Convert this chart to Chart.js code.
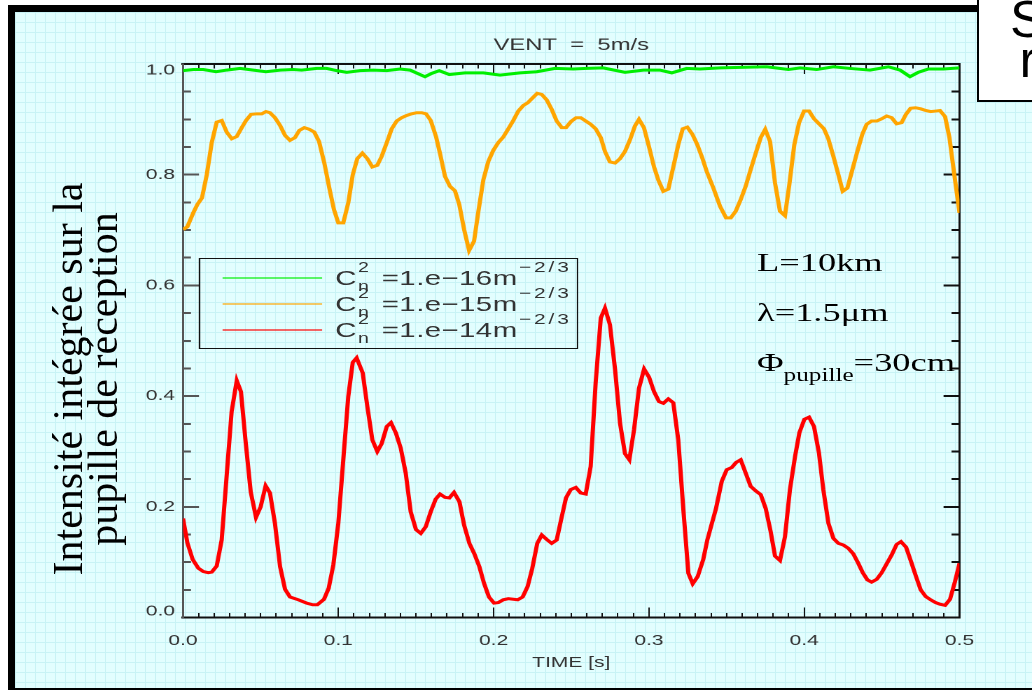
<!DOCTYPE html>
<html lang="fr">
<head>
<meta charset="utf-8">
<title>VENT = 5m/s</title>
<script src="https://cdn.jsdelivr.net/npm/chart.js@4.4.1/dist/chart.umd.min.js"></script>
<style>
  html, body { margin: 0; padding: 0; background: #fff; overflow: hidden; }
  body { width: 1032px; height: 690px; position: relative; }
  #frame {
    position: absolute; left: 8px; top: 5px; width: 1100px; height: 690px;
    box-sizing: border-box; border: 7px solid #000;
    background-color: #e2fefe;
    background-image:
      linear-gradient(to right, #c8f3f5 1px, transparent 1px),
      linear-gradient(to bottom, #c8f3f5 1px, transparent 1px);
    background-size: 10px 10px;
  }
  /* the plot is drawn 737px wide and stretched to the page width */
  #stage {
    position: absolute; left: 0; top: 0; width: 737px; height: 690px;
    transform: scaleX(1.40027); transform-origin: 0 0;
  }
  #chart { position: absolute; left: 0; top: 0; }
  #legend {
    position: absolute; left: 141.6px; top: 258.3px; width: 271.4px; height: 90.7px;
    box-sizing: border-box; border: 1px solid #111;
    font-family: 'Liberation Sans', Arial, sans-serif; color: #333;
  }
  #legend .row { position: absolute; left: 0; height: 26px; display: flex; align-items: flex-start; white-space: nowrap; }
  #legend .sample { width: 70.7px; height: 0; margin-left: 16.7px; margin-top: 12px; border-top: 2px solid; opacity: 0.6; }
  #legend .main { font-size: 21px; line-height: 26px; }
  #legend .c { margin-left: 9.5px; }
  #legend .ss { position: relative; width: 9px; height: 26px; font-size: 14px; line-height: 14px; }
  #legend .ss span { position: absolute; left: 1px; }
  #legend .s2 { top: -4.8px; }
  #legend .sn { top: 14.8px; }
  #legend .eq { margin-left: 9px; letter-spacing: 0.3px; }
  #legend .sup { font-size: 15px; position: relative; top: -13px; letter-spacing: 2px; margin-left: 1px; }
  .note {
    position: absolute; left: 540.6px; font-family: 'Liberation Serif', 'Times New Roman', serif;
    font-size: 26px; line-height: 26px; color: #000; white-space: nowrap;
  }
  .note .sub { font-size: 18px; vertical-align: -9.7px; line-height: 0; }
  #ytitle {
    position: absolute; left: -129.5px; top: 344px; width: 430px; height: 70px;
    font-family: 'Liberation Serif', 'Times New Roman', serif; font-size: 42px; line-height: 35px;
    text-align: center; white-space: nowrap; color: #000;
    transform: rotate(-90deg); transform-origin: 50% 50%;
  }
  #tag {
    position: absolute; left: 977px; top: -10px; width: 200px; height: 112px;
    box-sizing: border-box; border: 2px solid #000; background: #fff; overflow: hidden;
  }
  #tag div { position: absolute; font-family: 'Liberation Sans', Arial, sans-serif; font-size: 52px; line-height: 52px; color: #000; }
</style>
</head>
<body>
<div id="frame"></div>
<div id="stage">
  <canvas id="chart" width="737" height="690"></canvas>
  <div id="legend"></div>
  <div class="note" style="top:249.9px">L=10km</div>
  <div class="note" style="top:299.9px">&lambda;=1.5&mu;m</div>
  <div class="note" style="top:350.2px">&Phi;<span class="sub">pupille</span>=30cm</div>
</div>
<div id="ytitle">Intensité intégrée sur la<br>pupille de réception</div>
<div id="tag"><div style="left:31px;top:1px">S</div><div style="left:40.6px;top:41.3px">r</div></div>

<script>
const xTickLabels = ['0.0', '0.1', '0.2', '0.3', '0.4', '0.5'];
const yTickLabels = ['0.0', '0.2', '0.4', '0.6', '0.8', '1.0'];
const seriesExponents = ['1.e\u221216', '1.e\u221215', '1.e\u221214'];
const seriesColors = ['#00ee00', '#ffa500', '#ff0000'];

const greenTime = [0, 0.0068, 0.0131, 0.0213, 0.0281, 0.0367, 0.0453, 0.0534, 0.0625, 0.0710,
  0.0764, 0.0861, 0.0925, 0.0990, 0.1054, 0.1140, 0.1225, 0.1312, 0.1397, 0.1462,
  0.1509, 0.1558, 0.1601, 0.1650, 0.1715, 0.1816, 0.1934, 0.2041, 0.2170, 0.2278,
  0.2395, 0.2513, 0.2600, 0.2706, 0.2846, 0.2964, 0.3071, 0.3147, 0.3243, 0.3329,
  0.3458, 0.3587, 0.3758, 0.3898, 0.3973, 0.4080, 0.4188, 0.4295, 0.4424, 0.4542,
  0.4617, 0.4681, 0.4735, 0.4799, 0.4896, 0.5000];
const greenValue = [0.988, 0.990, 0.990, 0.986, 0.989, 0.992, 0.989, 0.986, 0.989, 0.990,
  0.989, 0.992, 0.992, 0.988, 0.985, 0.988, 0.989, 0.988, 0.991, 0.989,
  0.983, 0.977, 0.983, 0.988, 0.981, 0.984, 0.984, 0.980, 0.984, 0.986,
  0.992, 0.991, 0.992, 0.993, 0.985, 0.989, 0.989, 0.984, 0.992, 0.991,
  0.993, 0.994, 0.995, 0.990, 0.993, 0.990, 0.995, 0.992, 0.989, 0.995,
  0.989, 0.977, 0.985, 0.991, 0.991, 0.993];

const orangeTime = [0, 0.0028, 0.0066, 0.0092, 0.0122, 0.0153, 0.0185, 0.0217, 0.0249, 0.0281,
  0.0314, 0.0346, 0.0378, 0.0406, 0.0438, 0.0475, 0.0507, 0.0534, 0.0560, 0.0592,
  0.0625, 0.0657, 0.0689, 0.0721, 0.0749, 0.0781, 0.0813, 0.0845, 0.0876, 0.0910,
  0.0942, 0.0972, 0.1000, 0.1032, 0.1064, 0.1093, 0.1122, 0.1155, 0.1187, 0.1219,
  0.1251, 0.1279, 0.1312, 0.1344, 0.1376, 0.1408, 0.1440, 0.1473, 0.1505, 0.1537,
  0.1565, 0.1595, 0.1629, 0.1655, 0.1687, 0.1719, 0.1751, 0.1779, 0.1810, 0.1842,
  0.1874, 0.1902, 0.1934, 0.1966, 0.1998, 0.2030, 0.2062, 0.2095, 0.2127, 0.2159,
  0.2191, 0.2220, 0.2252, 0.2281, 0.2310, 0.2342, 0.2374, 0.2406, 0.2439, 0.2466,
  0.2498, 0.2531, 0.2561, 0.2593, 0.2625, 0.2657, 0.2690, 0.2717, 0.2749, 0.2782,
  0.2814, 0.2846, 0.2878, 0.2910, 0.2936, 0.2968, 0.3001, 0.3033, 0.3061, 0.3093,
  0.3125, 0.3157, 0.3189, 0.3218, 0.3247, 0.3280, 0.3312, 0.3344, 0.3372, 0.3415,
  0.3458, 0.3497, 0.3527, 0.3559, 0.3591, 0.3623, 0.3655, 0.3688, 0.3720, 0.3749,
  0.3780, 0.3812, 0.3844, 0.3876, 0.3904, 0.3936, 0.3967, 0.3999, 0.4031, 0.4063,
  0.4095, 0.4127, 0.4155, 0.4188, 0.4220, 0.4248, 0.4278, 0.4310, 0.4342, 0.4374,
  0.4402, 0.4434, 0.4467, 0.4499, 0.4531, 0.4563, 0.4595, 0.4627, 0.4655, 0.4685,
  0.4717, 0.4750, 0.4782, 0.4814, 0.4846, 0.4874, 0.4907, 0.4935, 0.4965, 0.5000];
const orangeValue = [0.701, 0.706, 0.731, 0.746, 0.758, 0.800, 0.858, 0.895, 0.898, 0.877,
  0.865, 0.869, 0.885, 0.898, 0.909, 0.910, 0.910, 0.914, 0.912, 0.903,
  0.889, 0.871, 0.862, 0.867, 0.880, 0.885, 0.882, 0.877, 0.860, 0.821,
  0.776, 0.737, 0.713, 0.713, 0.749, 0.800, 0.829, 0.839, 0.829, 0.814,
  0.817, 0.833, 0.858, 0.883, 0.897, 0.903, 0.907, 0.910, 0.912, 0.912,
  0.910, 0.898, 0.869, 0.838, 0.797, 0.779, 0.771, 0.746, 0.701, 0.663,
  0.680, 0.734, 0.791, 0.824, 0.844, 0.858, 0.868, 0.883, 0.898, 0.915,
  0.925, 0.930, 0.939, 0.947, 0.945, 0.935, 0.918, 0.897, 0.885, 0.885,
  0.896, 0.903, 0.903, 0.897, 0.891, 0.883, 0.867, 0.842, 0.823, 0.821,
  0.829, 0.842, 0.863, 0.888, 0.900, 0.885, 0.850, 0.814, 0.790, 0.770,
  0.774, 0.814, 0.854, 0.883, 0.886, 0.873, 0.854, 0.830, 0.806, 0.776,
  0.743, 0.722, 0.722, 0.734, 0.755, 0.779, 0.809, 0.839, 0.867, 0.882,
  0.860, 0.785, 0.734, 0.726, 0.782, 0.854, 0.894, 0.915, 0.915, 0.901,
  0.892, 0.883, 0.865, 0.833, 0.800, 0.770, 0.776, 0.809, 0.842, 0.873,
  0.891, 0.897, 0.897, 0.901, 0.906, 0.903, 0.892, 0.894, 0.909, 0.920,
  0.921, 0.919, 0.916, 0.914, 0.915, 0.916, 0.905, 0.867, 0.803, 0.731];

const redTime = [0, 0.0028, 0.0062, 0.0099, 0.0131, 0.0163, 0.0185, 0.0217, 0.0249, 0.0313,
  0.0346, 0.0373, 0.0404, 0.0436, 0.0470, 0.0500, 0.0532, 0.0560, 0.0592, 0.0625,
  0.0657, 0.0689, 0.0743, 0.0796, 0.0835, 0.0865, 0.0908, 0.0938, 0.0968, 0.1000,
  0.1032, 0.1064, 0.1093, 0.1118, 0.1157, 0.1187, 0.1219, 0.1251, 0.1279, 0.1312,
  0.1339, 0.1371, 0.1402, 0.1434, 0.1466, 0.1500, 0.1531, 0.1563, 0.1595, 0.1627,
  0.1655, 0.1687, 0.1715, 0.1745, 0.1780, 0.1810, 0.1844, 0.1876, 0.1908, 0.1938,
  0.1970, 0.2003, 0.2030, 0.2062, 0.2095, 0.2127, 0.2155, 0.2187, 0.2219, 0.2249,
  0.2281, 0.2310, 0.2342, 0.2374, 0.2406, 0.2434, 0.2466, 0.2496, 0.2529, 0.2561,
  0.2593, 0.2625, 0.2657, 0.2690, 0.2717, 0.2749, 0.2782, 0.2814, 0.2846, 0.2874,
  0.2904, 0.2936, 0.2969, 0.3001, 0.3033, 0.3065, 0.3093, 0.3125, 0.3157, 0.3189,
  0.3222, 0.3254, 0.3282, 0.3314, 0.3350, 0.3376, 0.3432, 0.3469, 0.3501, 0.3533,
  0.3561, 0.3591, 0.3623, 0.3655, 0.3687, 0.3720, 0.3752, 0.3784, 0.3812, 0.3844,
  0.3876, 0.3908, 0.3941, 0.3969, 0.4001, 0.4031, 0.4063, 0.4095, 0.4123, 0.4156,
  0.4188, 0.4220, 0.4252, 0.4284, 0.4316, 0.4348, 0.4377, 0.4407, 0.4434, 0.4467,
  0.4499, 0.4531, 0.4563, 0.4595, 0.4623, 0.4656, 0.4688, 0.4720, 0.4750, 0.4782,
  0.4814, 0.4846, 0.4874, 0.4907, 0.4939, 0.4971, 0.5000];
const redValue = [0.179, 0.135, 0.105, 0.089, 0.083, 0.081, 0.082, 0.093, 0.140, 0.372,
  0.428, 0.408, 0.315, 0.227, 0.181, 0.200, 0.238, 0.225, 0.170, 0.092,
  0.051, 0.037, 0.032, 0.026, 0.023, 0.023, 0.033, 0.053, 0.095, 0.170,
  0.285, 0.399, 0.461, 0.469, 0.442, 0.381, 0.321, 0.300, 0.314, 0.345,
  0.352, 0.333, 0.306, 0.261, 0.191, 0.159, 0.152, 0.164, 0.191, 0.214,
  0.223, 0.217, 0.216, 0.226, 0.209, 0.167, 0.134, 0.115, 0.092, 0.062,
  0.037, 0.026, 0.027, 0.032, 0.034, 0.033, 0.032, 0.037, 0.056, 0.089,
  0.134, 0.149, 0.141, 0.134, 0.140, 0.176, 0.216, 0.231, 0.235, 0.225,
  0.223, 0.273, 0.424, 0.541, 0.559, 0.529, 0.448, 0.351, 0.296, 0.285,
  0.339, 0.414, 0.449, 0.434, 0.408, 0.390, 0.387, 0.395, 0.388, 0.321,
  0.194, 0.080, 0.061, 0.074, 0.105, 0.140, 0.197, 0.246, 0.267, 0.271,
  0.280, 0.285, 0.261, 0.237, 0.229, 0.222, 0.197, 0.155, 0.111, 0.103,
  0.146, 0.231, 0.291, 0.334, 0.358, 0.362, 0.345, 0.297, 0.231, 0.170,
  0.143, 0.134, 0.131, 0.125, 0.115, 0.098, 0.081, 0.068, 0.064, 0.069,
  0.081, 0.097, 0.113, 0.132, 0.137, 0.127, 0.101, 0.074, 0.050, 0.038,
  0.032, 0.027, 0.024, 0.022, 0.033, 0.065, 0.098];

const labelFont = { family: 'Liberation Sans', size: 15, weight: 'normal' };
const textColor = '#333';

function toPoints(times, values) {
  return times.map((t, i) => ({ x: t, y: values[i] }));
}

function buildSeries(times, values, index) {
  return {
    label: 'Cn2 = ' + seriesExponents[index] + ' m-2/3',
    exponent: seriesExponents[index],
    data: toPoints(times, values),
    borderColor: seriesColors[index],
    borderWidth: 3,
    pointRadius: 0,
    tension: 0,
    fill: false
  };
}

// builds one axis; minor axes only carry short tick marks
function axis(position, min, max, step, tickLength, opts) {
  const horizontal = position === 'top' || position === 'bottom';
  return Object.assign({
    type: 'linear',
    position,
    min,
    max,
    weight: opts.weight || 0,
    ticks: { stepSize: step, display: false, autoSkip: false, maxTicksLimit: 200 },
    grid: {
      drawOnChartArea: false,
      drawTicks: true,
      tickLength: -tickLength,
      tickColor: opts.color,
      tickWidth: horizontal ? 1 : 2
    },
    border: { display: !!opts.border, color: opts.color, width: horizontal ? 2 : 1.5 },
    afterFit: scale => {
      if (horizontal) scale.height = opts.size || 0;
      else scale.width = opts.size || 0;
    }
  }, opts.extra || {});
}

const htmlLegend = {
  id: 'htmlLegend',
  afterUpdate(chart) {
    const box = document.getElementById('legend');
    box.innerHTML = '';
    chart.data.datasets.forEach((ds, i) => {
      const row = document.createElement('div');
      row.className = 'row';
      row.style.top = (5.4 + i * 26) + 'px';
      row.innerHTML =
        '<span class="sample" style="border-color:' + ds.borderColor + '"></span>' +
        '<span class="main c">C</span>' +
        '<span class="ss"><span class="s2">2</span><span class="sn">n</span></span>' +
        '<span class="main eq">=' + ds.exponent + 'm<span class="sup">\u22122/3</span></span>';
      box.appendChild(row);
    });
  }
};

const xMain = axis('bottom', 0, 0.5, 0.1, 10, { color: '#111', border: true, size: 72.5, weight: 1 });
xMain.ticks = {
  stepSize: 0.1, display: true, autoSkip: false, maxRotation: 0,
  padding: 24.5, font: labelFont, color: textColor,
  callback: (value, index) => xTickLabels[index]
};
xMain.title = {
  display: true, text: 'TIME [s]', color: textColor, font: labelFont,
  padding: { top: 0, bottom: 18 }
};

// end labels sit inside the axis range, as in the original plot
const yMain = axis('left', 0, 1, 0.2, 11.4, { color: '#555', border: true, size: 130.69, weight: 1 });
yMain.ticks = {
  stepSize: 0.2, display: true, autoSkip: false,
  padding: 17.1, font: Object.assign({}, labelFont, { lineHeight: 0.85 }), color: textColor,
  callback: (value, index, ticks) => {
    const label = yTickLabels[index];
    if (index === 0) return [label, ''];
    if (index === ticks.length - 1) return ['', label];
    return label;
  }
};

new Chart(document.getElementById('chart'), {
  type: 'line',
  data: {
    datasets: [
      buildSeries(greenTime, greenValue, 0),
      buildSeries(orangeTime, orangeValue, 1),
      buildSeries(redTime, redValue, 2)
    ]
  },
  options: {
    responsive: false,
    devicePixelRatio: 2,
    animation: false,
    layout: { padding: { left: 0, right: 51.77, top: 0, bottom: 0 } },
    scales: {
      x: xMain,
      xMinor: axis('bottom', 0, 0.5, 0.01, 4.5, { color: '#111' }),
      xTop: axis('top', 0, 0.5, 0.1, 10, { color: '#111', border: true, weight: 1 }),
      xTopMinor: axis('top', 0, 0.5, 0.01, 4.5, { color: '#111' }),
      y: yMain,
      yMinor: axis('left', 0, 1, 0.05, 5.7, { color: '#555' }),
      yRight: axis('right', 0, 1, 0.2, 11.4, { color: '#111', border: true, weight: 1 }),
      yRightMinor: axis('right', 0, 1, 0.05, 5.7, { color: '#111' })
    },
    plugins: {
      legend: { display: false },
      tooltip: { enabled: false },
      title: {
        display: true,
        text: 'VENT  =  5m/s',
        fullSize: false,
        color: textColor,
        font: { family: 'Liberation Sans', size: 17, weight: 'normal' },
        padding: { top: 35, bottom: 8.6 }
      }
    }
  },
  plugins: [htmlLegend]
});
</script>
</body>
</html>
